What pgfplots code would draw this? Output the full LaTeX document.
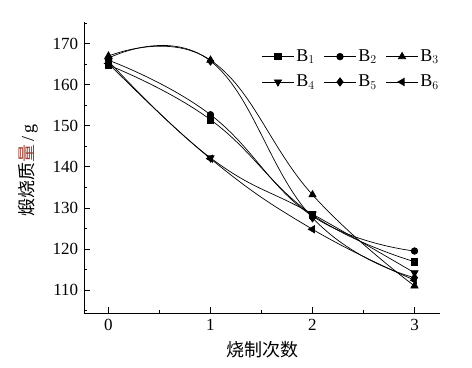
\documentclass[border=0pt]{standalone}
\usepackage{pgfplots}
\pgfplotsset{compat=1.18}
\usepackage{fontspec}
\setmainfont{Liberation Serif}
\newfontfamily\cjk{Noto Sans CJK SC}
\usetikzlibrary{calc}
\definecolor{lblred}{HTML}{9A3B2E}

\begin{document}
\fontsize{17bp}{20bp}\selectfont
\begin{tikzpicture}
\begin{axis}[
  scale only axis, width=356bp, height=291bp,
  xmin=-0.24, xmax=3.25, ymin=104.4, ymax=175.3,
  axis lines*=left,
  axis line style={line width=0.8bp},
  tick align=inside,
  xtick={0,1,2,3}, minor xtick={0.5,1.5,2.5},
  ytick={110,120,...,170}, minor ytick={105,115,...,175},
  major tick length=6bp, minor tick length=3.5bp,
  every tick/.style={line width=0.8bp, black},
  /pgf/number format/assume math mode=true,
  tick label style={font=\fontsize{17bp}{20bp}\selectfont},
  xlabel={\cjk 烧制次数},
  ylabel={{\cjk 煅烧质}{\cjk\color{lblred}量}\,/\,g},
  label style={font=\fontsize{18bp}{21bp}\selectfont},
  xlabel style={at={(axis description cs:0.5,-0.127)}, anchor=center},
  ylabel style={at={(axis description cs:-0.157,0.49)}, anchor=center},
  legend columns=3,
  legend style={at={(axis description cs:0.49,0.92)}, anchor=north west,
    draw=none, fill=none, font=\fontsize{18bp}{21bp}\selectfont, row sep=7bp,
    /tikz/every even column/.append style={column sep=7bp}},
  legend image code/.code={\draw[mark repeat=2,mark phase=2] plot coordinates {(0bp,0bp)(16bp,0bp)(32bp,0bp)};},
  every axis plot/.append style={black, line width=0.7bp, smooth, tension=0.75},
]
\addplot[mark=square*, mark size=3.2bp] coordinates {(0,164.8) (1,151.5) (2,128.3) (3,116.9)};
\addlegendentry{B$_1$}
\addplot[mark=*, mark size=3.3bp] coordinates {(0,166.0) (1,152.7) (2,128.0) (3,119.5)};
\addlegendentry{B$_2$}
\addplot[mark=triangle*, mark size=4.2bp] coordinates {(0,167.0) (1,166.0) (2,133.2) (3,111.0)};
\addlegendentry{B$_3$}
\addplot[mark=triangle*, mark size=4.2bp, mark options={rotate=180}] coordinates {(0,165.8) (1,142.2) (2,128.5) (3,114.2)};
\addlegendentry{B$_4$}
\addplot[mark=diamond*, mark size=4.2bp] coordinates {(0,166.5) (1,165.8) (2,127.6) (3,113.0)};
\addlegendentry{B$_5$}
\addplot[mark=triangle*, mark size=4.2bp, mark options={rotate=90}] coordinates {(0,165.2) (1,142.0) (2,124.8) (3,112.4)};
\addlegendentry{B$_6$}
\coordinate (ll) at (rel axis cs:0,0);
\coordinate (ur) at (rel axis cs:1,1);
\end{axis}
\pgfresetboundingbox
\path ($(ll)+(-84bp,-55bp)$) rectangle ($(ur)+(32bp,22bp)$);
\end{tikzpicture}
\end{document}
